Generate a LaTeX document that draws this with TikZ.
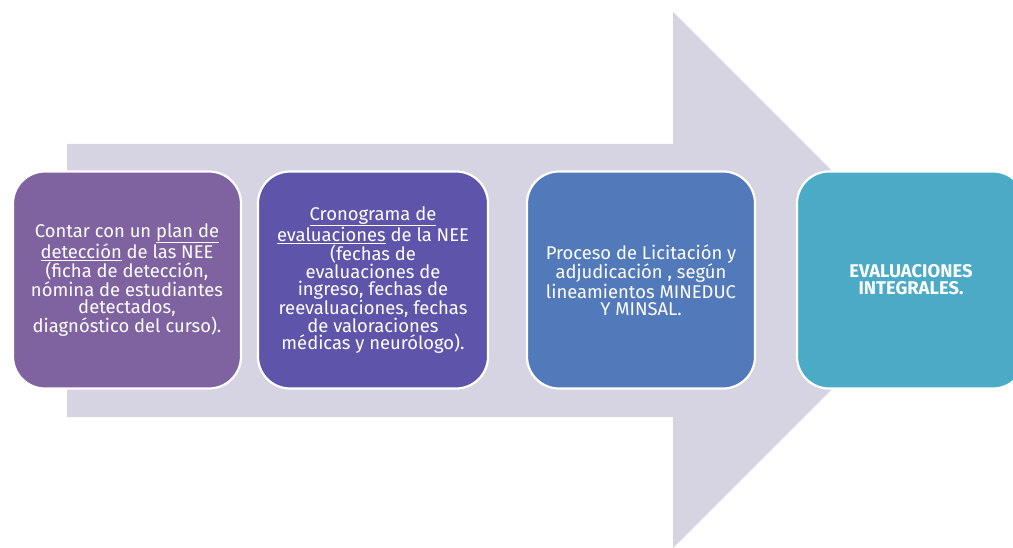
\documentclass[tikz,border=0pt]{standalone}
\usepackage{fontspec}
\setmainfont{Fira Sans}
\definecolor{arrowgray}{HTML}{D6D3E2}
\definecolor{cone}{HTML}{7F62A0}
\definecolor{ctwo}{HTML}{5E55AB}
\definecolor{cthree}{HTML}{5279BA}
\definecolor{cfour}{HTML}{4BABC6}
\begin{document}
\begin{tikzpicture}[x=1pt,y=-1pt,
  stepbox/.style={draw=white, line width=2.2pt, rounded corners=32pt,
    minimum width=228pt, minimum height=217pt, inner sep=0pt,
    text=white, align=center,
    font=\fontsize{18.4}{17}\selectfont},
  ]
\useasboundingbox (0,0) rectangle (1013,548);
\clip (0,0) rectangle (1013,548);
\fill[arrowgray] (67,144) -- (673,144) -- (673,12) -- (941,280) -- (673,548)
  -- (673,417) -- (67,417) -- cycle;
\node[stepbox, fill=cone] (b1) at (127,280)
  {Contar con un \underline{plan de}\\\underline{detección} de las NEE\\(ficha de detección,\\nómina de estudiantes\\detectados,\\diagnóstico del curso).};
\node[stepbox, fill=ctwo, minimum width=230pt] (b2) at (373,280)
  {\underline{Cronograma de}\\\underline{evaluaciones} de la NEE\\(fechas de\\evaluaciones de\\ingreso, fechas de\\reevaluaciones, fechas\\de valoraciones\\médicas y neurólogo).};
\node[stepbox, fill=cthree] (b3) at (641,280)
  {Proceso de Licitación y\\adjudicación , según\\lineamientos MINEDUC\\Y MINSAL.};
\node[stepbox, fill=cfour, font=\fontsize{18.4}{17}\selectfont\bfseries] (b4) at (911,280)
  {EVALUACIONES\\INTEGRALES.};
\end{tikzpicture}
\end{document}
